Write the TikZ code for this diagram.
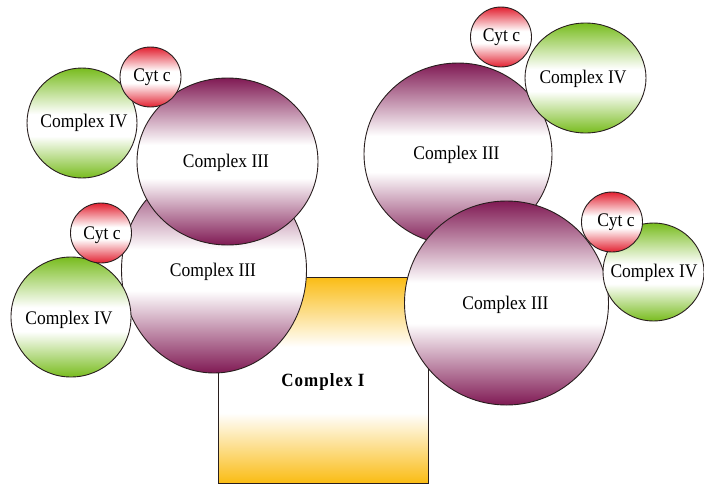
\documentclass[tikz,border=0pt]{standalone}
\usepackage{fontspec}
\usepackage{graphicx}
\setmainfont{Liberation Serif}
\usetikzlibrary{shapes.geometric}
\definecolor{pur}{RGB}{128,26,84}
\definecolor{grn}{RGB}{120,188,30}
\definecolor{rd}{RGB}{226,32,48}
\definecolor{org}{RGB}{250,188,20}
\definecolor{edge}{RGB}{40,30,30}
\pgfdeclareverticalshading{purshade}{100bp}{color(0bp)=(pur); color(25bp)=(pur); color(45bp)=(white); color(55bp)=(white); color(75bp)=(pur); color(100bp)=(pur)}
\pgfdeclareverticalshading{grnshade}{100bp}{color(0bp)=(grn); color(25bp)=(grn); color(44bp)=(white); color(54bp)=(white); color(75bp)=(grn); color(100bp)=(grn)}
\pgfdeclareverticalshading{rdshade}{100bp}{color(0bp)=(rd); color(25bp)=(rd); color(45bp)=(white); color(55bp)=(white); color(75bp)=(rd); color(100bp)=(rd)}
\pgfdeclareverticalshading{orgshade}{100bp}{color(0bp)=(org); color(25bp)=(org); color(42bp)=(white); color(58bp)=(white); color(75bp)=(org); color(100bp)=(org)}
\newcommand{\tallt}[1]{\scalebox{1}[1.1]{#1}}
\tikzset{
  blob/.style={ellipse, draw=edge, line width=0.9pt, inner sep=0pt, shade},
  cthree/.style={blob, shading=purshade},
  cfour/.style={blob, shading=grnshade},
  cytc/.style={blob, shading=rdshade, minimum width=61pt, minimum height=60pt},
  cone/.style={rectangle, draw=edge, line width=0.9pt, inner sep=0pt, shade, shading=orgshade},
  lbl/.style={inner sep=0pt, font=\fontsize{17.5}{20}\selectfont},
  lblb/.style={inner sep=0pt, font=\fontsize{17}{20}\selectfont\bfseries\addfontfeature{LetterSpace=6}}
}
\begin{document}
\begin{tikzpicture}[x=1pt, y=-1pt]
\useasboundingbox (0,0) rectangle (704,485);
\fill[white] (0,0) rectangle (704,485);
% Complex I
\node[cone, minimum width=210pt, minimum height=206pt] (c1) at (323,380) {};
% Complex III
\node[cthree, minimum width=185pt, minimum height=206pt] (c3b) at (214,270) {};
\node[cthree, minimum width=181pt, minimum height=167pt] (c3a) at (227.5,161.5) {};
\node[cthree, minimum width=188pt, minimum height=182pt] (c3c) at (458,154) {};
\node[cthree, minimum width=204pt, minimum height=204pt] (c3d) at (506.5,303) {};
% Complex IV
\node[cfour, minimum width=110pt, minimum height=110pt] (c4a) at (82,123) {};
\node[cfour, minimum width=120pt, minimum height=120pt] (c4b) at (71,317) {};
\node[cfour, minimum width=121pt, minimum height=110pt] (c4c) at (585.5,78) {};
\node[cfour, minimum width=101pt, minimum height=98pt] (c4d) at (653.5,272) {};
% Cyt c
\node[cytc] (cya) at (150.5,77) {};
\node[cytc] (cyb) at (101,233) {};
\node[cytc] (cyc) at (501,37) {};
\node[cytc] (cyd) at (612,222) {};
% labels
\node[lblb] (t1) at (323,382) {\tallt{Complex I}};
\node[lbl] (t3a) at (226,163) {\tallt{Complex III}};
\node[lbl] (t3b) at (213,272) {\tallt{Complex III}};
\node[lbl] (t3c) at (456.5,155) {\tallt{Complex III}};
\node[lbl] (t3d) at (505.5,305) {\tallt{Complex III}};
\node[lbl] (t4a) at (84,123) {\tallt{Complex IV}};
\node[lbl] (t4b) at (69,320) {\tallt{Complex IV}};
\node[lbl] (t4c) at (583,79) {\tallt{Complex IV}};
\node[lbl] (t4d) at (654,273) {\tallt{Complex IV}};
\node[lbl] (tya) at (152,77) {\tallt{Cyt c}};
\node[lbl] (tyb) at (102,235) {\tallt{Cyt c}};
\node[lbl] (tyc) at (501.5,37) {\tallt{Cyt c}};
\node[lbl] (tyd) at (616,222) {\tallt{Cyt c}};
\end{tikzpicture}
\end{document}
